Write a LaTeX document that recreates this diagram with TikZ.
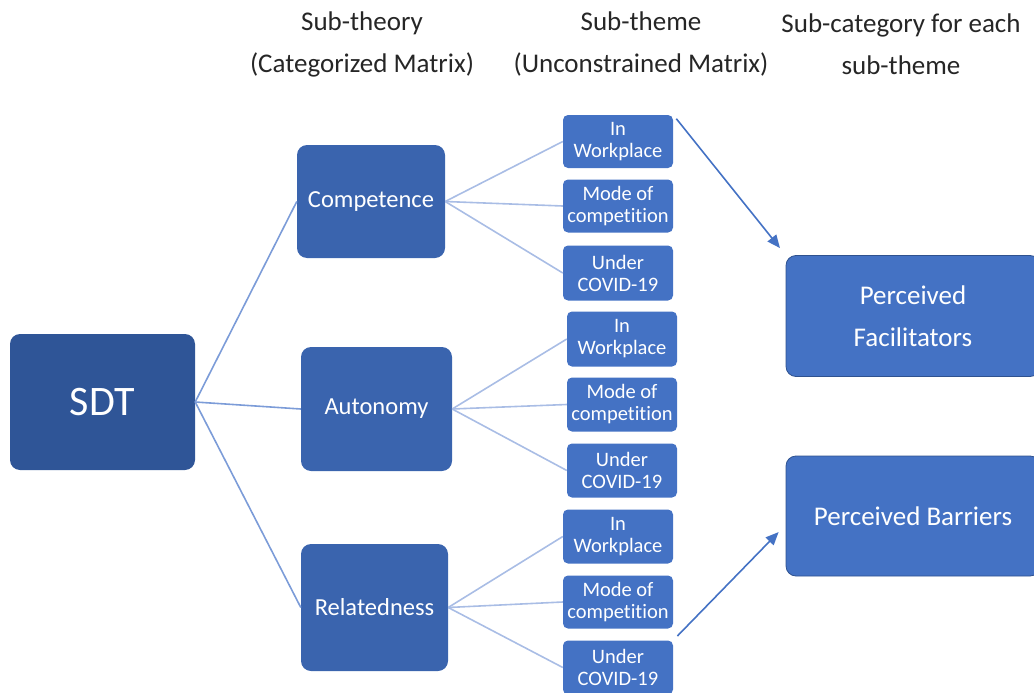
\documentclass[tikz,border=0pt]{standalone}
\usepackage{fontspec}
\setmainfont{Carlito}[Ligatures=NoCommon]
\usetikzlibrary{arrows.meta}
\definecolor{cdark}{HTML}{2F5597}
\definecolor{cmid}{HTML}{3A64AE}
\definecolor{clight}{HTML}{4472C4}
\definecolor{cedge}{HTML}{2F528F}
\definecolor{lineA}{HTML}{7C9CD8}
\definecolor{lineB}{HTML}{A9BDE5}
\definecolor{htext}{HTML}{262626}
\tikzset{
  box/.style={rounded corners=10pt, text=white, align=center, inner sep=0pt},
  sdtbox/.style={box, fill=cdark, font=\fontsize{42}{48}\selectfont},
  thbox/.style={box, fill=cmid, font=\fontsize{24.5}{29}\selectfont},
  smbox/.style={box, fill=clight, rounded corners=5pt, minimum width=110pt, font=\fontsize{20.5}{22}\selectfont},
  pbox/.style={box, fill=clight, draw=cedge, line width=0.8pt, minimum width=254pt, font=\fontsize{27}{42}\selectfont},
  hdr/.style={align=center, text=htext, font=\fontsize{27}{42}\selectfont},
  linkA/.style={draw=lineA, line width=1.6pt},
  linkB/.style={draw=lineB, line width=1.6pt},
  arr/.style={draw=clight, line width=1.6pt, -{Triangle[length=13pt,width=11pt]}},
}
\begin{document}
\begin{tikzpicture}[x=1pt,y=-1pt]
\useasboundingbox (0,0) rectangle (1034,693);
% headers
\node[hdr] (h1) at (362,44) {Sub-theory\\(Categorized Matrix)};
\node[hdr] (h2) at (641,44) {Sub-theme\\(Unconstrained Matrix)};
\node[hdr] (h3) at (901,44) {Sub-category for each\\sub-theme};
% main
\node[sdtbox, minimum width=185pt, minimum height=136pt] (sdt) at (102.5,402) {SDT};
\node[thbox, minimum width=148pt, minimum height=113pt] (comp) at (371,201.5) {Competence};
\node[thbox, minimum width=151pt, minimum height=124pt] (auto) at (376.5,409) {Autonomy};
\node[thbox, minimum width=147pt, minimum height=127pt] (rel) at (374.5,607.5) {Relatedness};
% sub-themes
\node[smbox, minimum height=53pt] (s11) at (618,141.5) {In\\Workplace};
\node[smbox, minimum height=53pt] (s12) at (618,206) {Mode of\\competition};
\node[smbox, minimum height=55pt] (s13) at (618,273) {Under\\COVID-19};
\node[smbox, minimum height=55pt] (s21) at (622,339) {In\\Workplace};
\node[smbox, minimum height=54pt] (s22) at (622,404.5) {Mode of\\competition};
\node[smbox, minimum height=54pt] (s23) at (622,470.5) {Under\\COVID-19};
\node[smbox, minimum height=54pt] (s31) at (618,536.5) {In\\Workplace};
\node[smbox, minimum height=53pt] (s32) at (618,602) {Mode of\\competition};
\node[smbox, minimum height=54pt] (s33) at (618,667.5) {Under\\COVID-19};
% categories
\node[pbox, minimum height=121pt] (pf) at (913,316) {Perceived\\Facilitators};
\node[pbox, minimum height=120pt] (pb) at (913,516) {Perceived Barriers};
% connectors
\draw[linkA] (sdt.east) -- (comp.west);
\draw[linkA] (sdt.east) -- (auto.west);
\draw[linkA] (sdt.east) -- (rel.west);
\foreach \t/\s in {comp/s1, auto/s2, rel/s3}{
  \draw[linkB] (\t.east) -- (\s1.west);
  \draw[linkB] (\t.east) -- (\s2.west);
  \draw[linkB] (\t.east) -- (\s3.west);
}
\draw[arr, shorten <=5pt, shorten >=9pt] (s11.north east) -- (pf.north west);
\draw[arr, shorten <=6pt, shorten >=10pt] (s33.north east) -- (pb.184);
\end{tikzpicture}
\end{document}
